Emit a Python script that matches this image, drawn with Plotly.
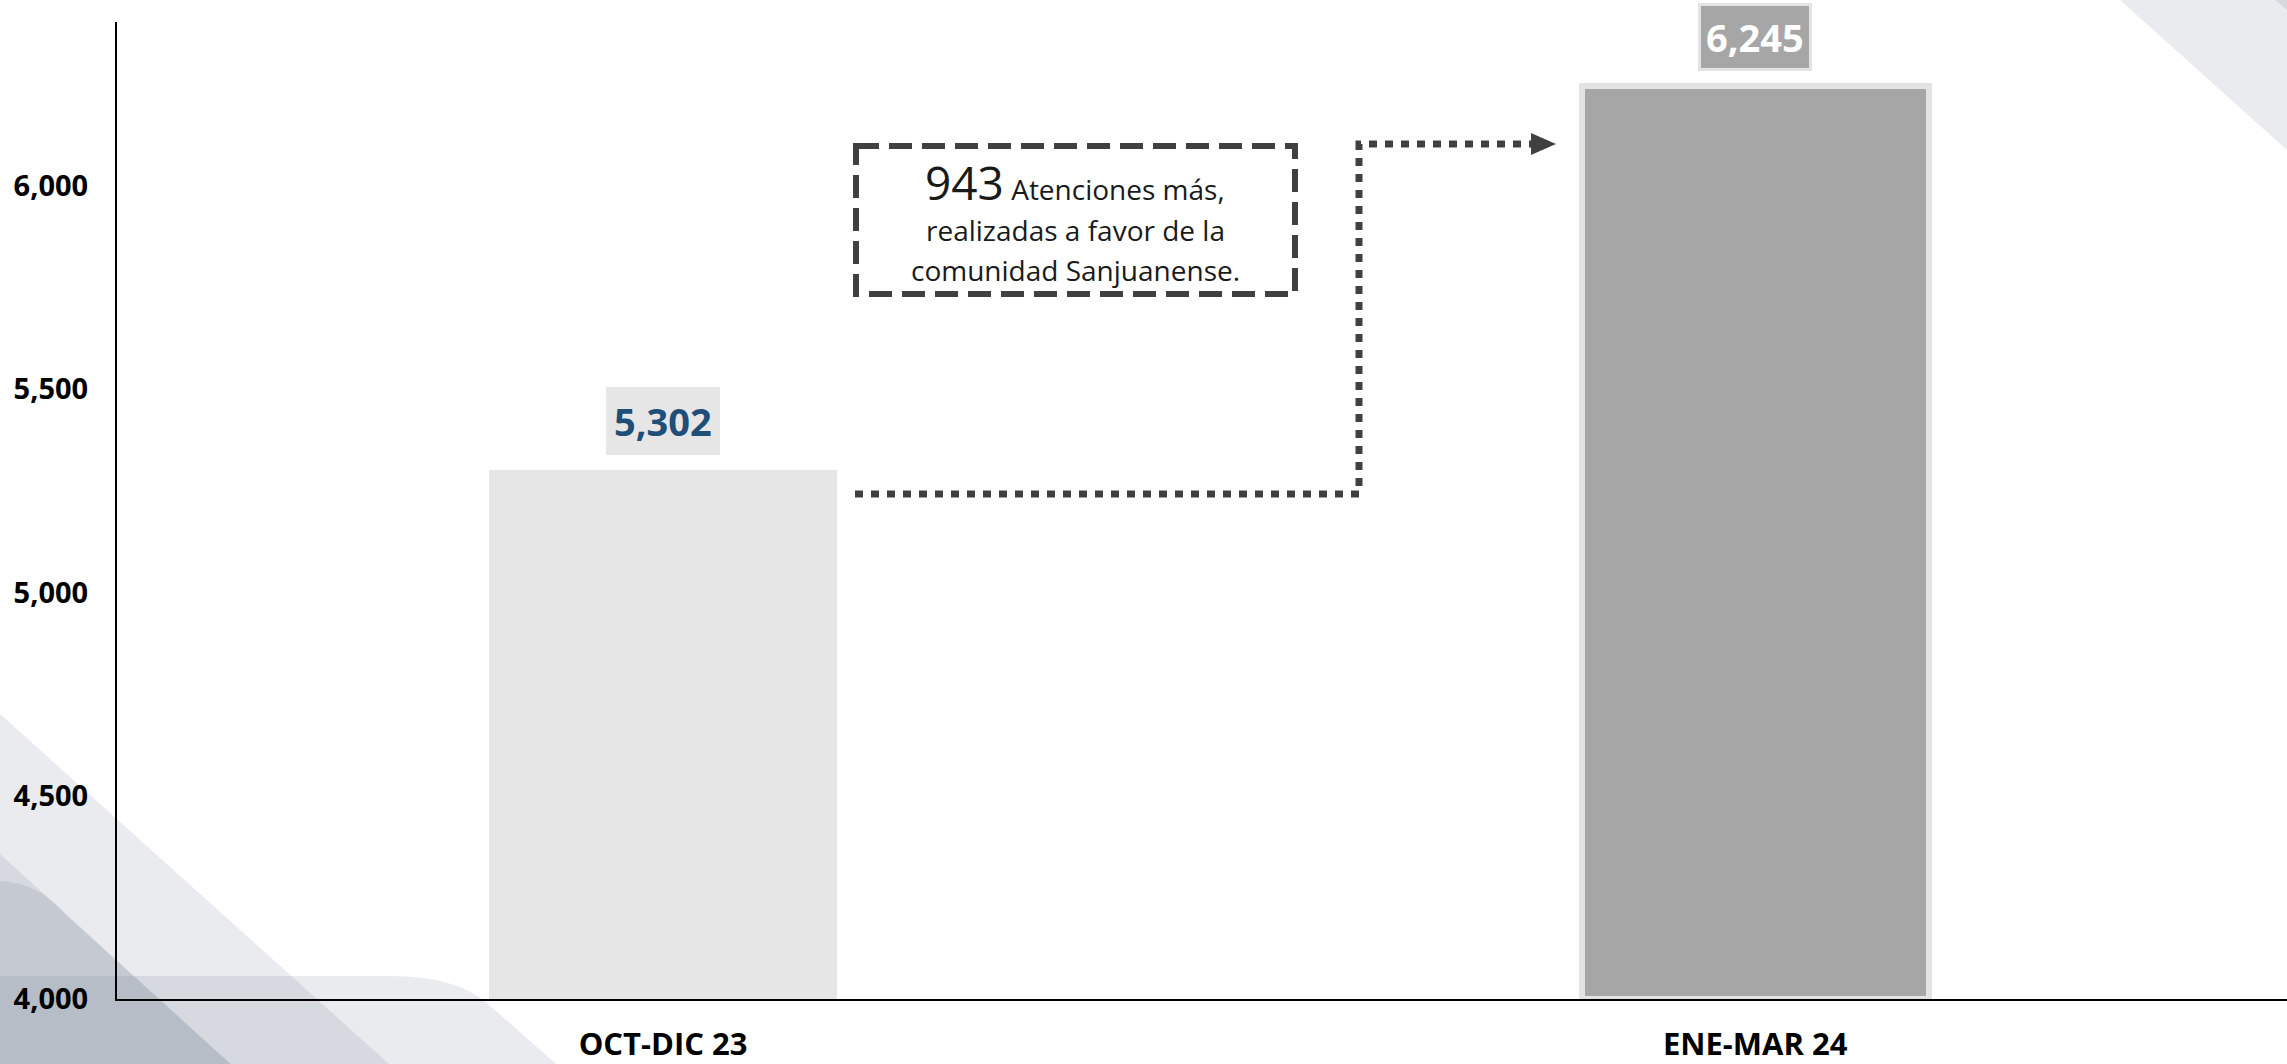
import plotly.graph_objects as go

# Data
periodos = ["OCT-DIC 23", "ENE-MAR 24"]
atenciones = [5302, 6245]
y_ticks = [4000, 4500, 5000, 5500, 6000]

diferencia = atenciones[1] - atenciones[0]

# Page size and plot area (pixels)
W, H = 2287, 1064
L, R, T, B = 117, 0, 22, 65
PW, PH = W - L - R, H - T - B

FONT = "Open Sans"


def px(x):
    # pixel x -> paper x
    return (x - L) / PW


def py(y):
    # pixel y (from top) -> paper y
    return (H - B - y) / PH


def path(points, close=True):
    s = ""
    for i, p in enumerate(points):
        if p[0] == "Q":
            s += f" Q{px(p[1]):.5f},{py(p[2]):.5f} {px(p[3]):.5f},{py(p[4]):.5f}"
        else:
            s += (" M" if i == 0 else " L") + f"{px(p[0]):.5f},{py(p[1]):.5f}"
    return s + (" Z" if close else "")


fig = go.Figure()

fig.add_trace(go.Bar(
    x=periodos,
    y=[v - 4000 for v in atenciones],
    base=4000,
    width=0.318,
    marker=dict(
        color=["#E6E6E6", "#A6A6A6"],
        line=dict(color="#E3E3E3", width=[0, 6]),
    ),
    hoverinfo="skip",
    showlegend=False,
))

# Value labels in boxes above the bars
label_styles = [
    dict(color="#1F4E79", bgcolor="#E6E6E6", bordercolor="#E6E6E6"),
    dict(color="#FFFFFF", bgcolor="#A6A6A6", bordercolor="#E3E3E3"),
]
for per, val, st in zip(periodos, atenciones, label_styles):
    fig.add_annotation(
        x=per, y=val, yanchor="bottom", yshift=15,
        text=f"<b>{val:,}</b>", showarrow=False,
        font=dict(family=FONT, size=38, color=st["color"]),
        bgcolor=st["bgcolor"], bordercolor=st["bordercolor"],
        borderwidth=3, borderpad=5,
    )

# Background decoration (soft grey shapes in the corners)
deco = "rgba(100,115,135,0.14)"
shapes = []
for pts in [
    [(0, 714), (389, 1064), (0, 1064)],
    [(0, 976), (390, 976), ("Q", 455, 976, 487, 1003), (556, 1064), (0, 1064)],
    [(0, 854), (231, 1064), (0, 1064)],
    [(0, 881), ("Q", 40, 883, 65, 914), (230, 1064), (0, 1064)],
    [(2120, 0), (2287, 150), (2287, 0)],
    [(2275, 0), (2287, 10), (2287, 0)],
]:
    shapes.append(dict(type="path", xref="paper", yref="paper", path=path(pts),
                       fillcolor=deco, line=dict(width=0), layer="below"))

# Dashed box around the note
shapes.append(dict(type="rect", xref="paper", yref="paper",
                   x0=px(856), x1=px(1295), y0=py(146), y1=py(294),
                   line=dict(color="#404040", width=6, dash="23px,10px")))

# Dotted connector from first bar to second bar, with arrow head
shapes.append(dict(type="path", xref="paper", yref="paper",
                   path=path([(855, 494), (1359, 494), (1359, 144), (1533, 144)], close=False),
                   line=dict(color="#404040", width=7, dash="8px,8px")))
shapes.append(dict(type="path", xref="paper", yref="paper",
                   path=path([(1531, 133), (1556, 144), (1531, 155)]),
                   fillcolor="#404040", line=dict(width=0)))

# Note text
note_lines = [
    (f"<span style='font-size:46px'>{diferencia}</span> Atenciones más,", 182),
    ("realizadas a favor de la", 230),
    ("comunidad Sanjuanense.", 270),
]
for txt, yy in note_lines:
    fig.add_annotation(
        xref="paper", yref="paper", x=px(1075), y=py(yy),
        xanchor="center", yanchor="middle",
        text=txt, showarrow=False,
        font=dict(family=FONT, size=28, color="#1A1A1A"),
    )

fig.update_layout(
    width=W, height=H,
    margin=dict(l=L, r=R, t=T, b=B, pad=0),
    paper_bgcolor="#FFFFFF",
    plot_bgcolor="rgba(0,0,0,0)",
    shapes=shapes,
    font=dict(family=FONT, color="#000000"),
    bargap=0,
)

fig.update_xaxes(
    type="category",
    range=[-0.5, 1.487],
    showline=True, linecolor="#000000", linewidth=2,
    showgrid=False, zeroline=False, ticks="",
    tickfont=dict(family=FONT, size=31, color="#000000", weight="bold"),
    ticklabelstandoff=17,
    automargin=False,
)

fig.update_yaxes(
    range=[4000, 6403],
    tickvals=y_ticks,
    ticktext=[f"<b>{v:,}</b>" for v in y_ticks],
    showline=True, linecolor="#000000", linewidth=2,
    showgrid=False, zeroline=False, ticks="",
    tickfont=dict(family=FONT, size=29, color="#000000"),
    ticklabelstandoff=21,
    automargin=False,
)

# Remove the browser's default page margin so the chart fills the window
fig.write_html("out.html", config={"displayModeBar": False},
               post_script="document.body.style.margin='0';")
